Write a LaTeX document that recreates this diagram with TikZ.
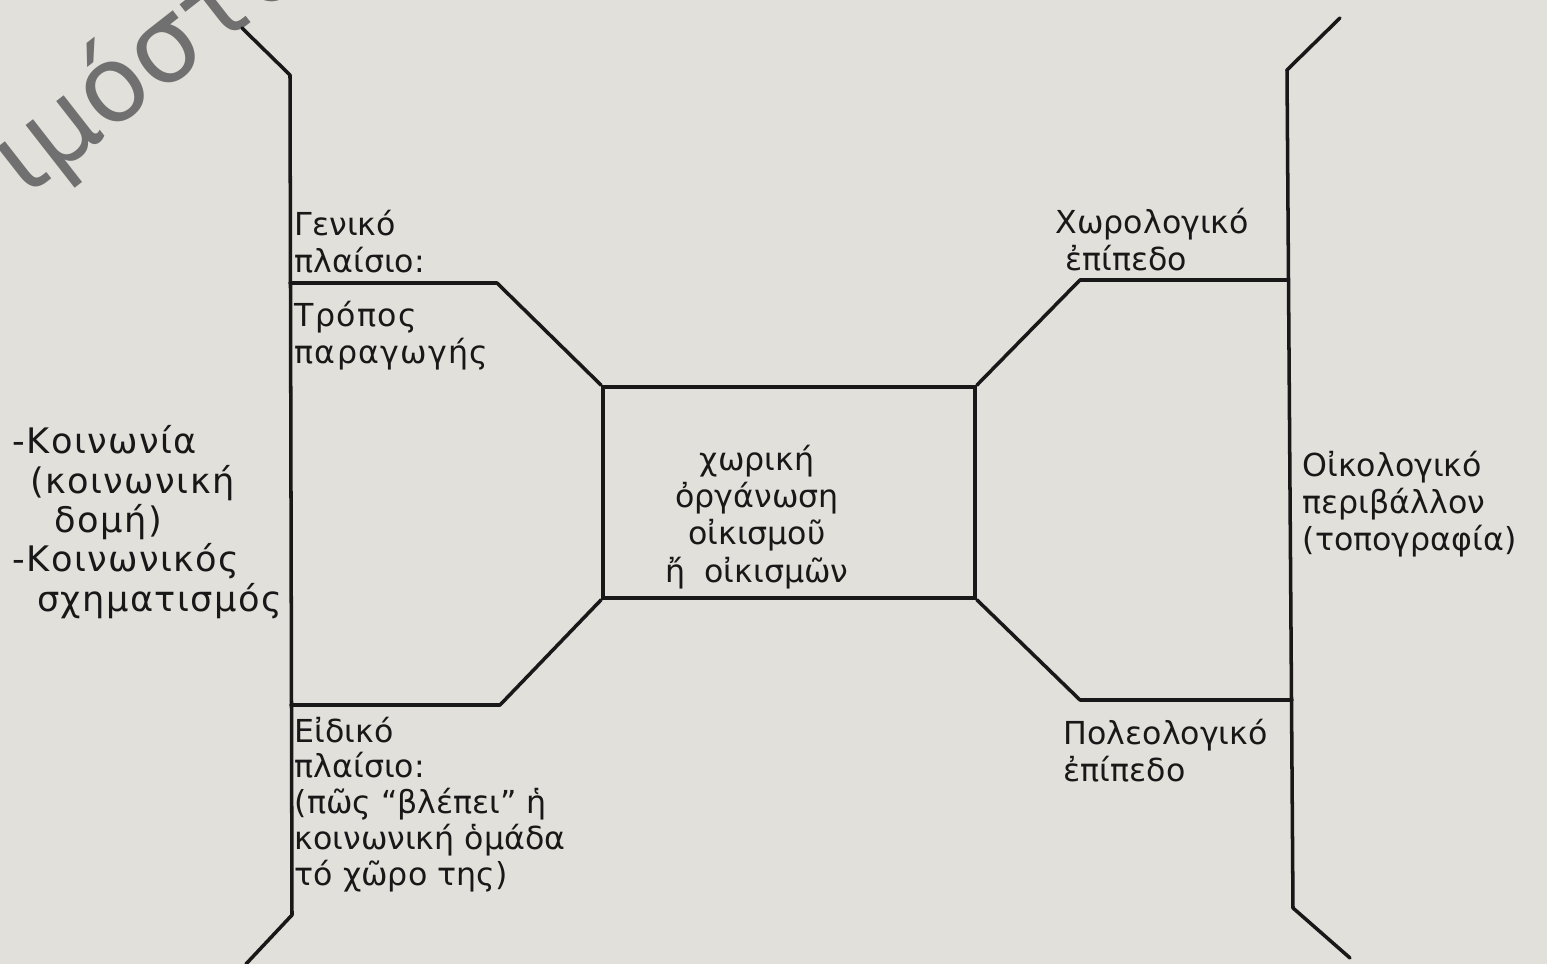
\documentclass[tikz,border=0pt]{standalone}
\usepackage{fontspec}
\setmainfont{DejaVu Sans}
\usetikzlibrary{positioning, calc}
\definecolor{paper}{RGB}{226,224,218}
\definecolor{ink}{RGB}{24,24,24}
\definecolor{stampgray}{RGB}{112,112,112}
\tikzstyle{line} = [line width=1pt, draw=ink, line join=round, line cap=round]

\begin{document}
\begin{tikzpicture}[
    x=0.01cm, y=-0.01cm,
    tag/.style={anchor=north west, align=left, inner sep=0pt, text=ink, font=\fontsize{9}{10.6}\selectfont},
    hub/.style={rectangle, draw=ink, line width=1pt, minimum width=3.72cm, minimum height=2.11cm, inner sep=0pt},
    stamp/.style={text=stampgray, font=\fontsize{30}{30}\selectfont, inner sep=0pt}
]
    \useasboundingbox (0,0) rectangle (1547,964);
    \fill[paper] (0,0) rectangle (1547,964);
    \clip (0,0) rectangle (1547,964);

    % watermark, cut by the page edge
    \node[stamp, rotate=38] (watermark) at (150,62) {ιμόστο};

    % central box
    \node[hub] (core) at (789,492.5) {};
    \node[tag, anchor=center, align=center] (coretext) at (757,517) {χωρική\\ὀργάνωση\\οἰκισμοῦ\\ἤ\hspace{0.6em}οἰκισμῶν};

    % corners of the frame
    \coordinate (lTail1) at (242,28);
    \coordinate (lTop) at (290,75);
    \coordinate (lBot) at (292,915);
    \coordinate (lTail2) at (246,964);
    \coordinate (rTail1) at (1340,18);
    \coordinate (rTop) at (1287,70);
    \coordinate (rBot) at (1293,908);
    \coordinate (rTail2) at (1350,958);
    \coordinate (ulEnd) at (290,283);
    \coordinate (ulBend) at (497,283);
    \coordinate (llEnd) at (291,705);
    \coordinate (llBend) at (500,705);
    \coordinate (urEnd) at (1288,280);
    \coordinate (urBend) at (1080,280);
    \coordinate (lrEnd) at (1292,700);
    \coordinate (lrBend) at (1080,700);

    \draw[line] (lTail1) -- (lTop) -- (lBot) -- (lTail2);
    \draw[line] (rTail1) -- (rTop) -- (rBot) -- (rTail2);
    \draw[line] (ulEnd) -- (ulBend) -- (core.north west);
    \draw[line] (llEnd) -- (llBend) -- (core.south west);
    \draw[line] (urEnd) -- (urBend) -- (core.north east);
    \draw[line] (lrEnd) -- (lrBend) -- (core.south east);

    % texts
    \node[tag] (general) at (294,209) {Γενικό\\πλαίσιο:};
    \node[tag, font=\fontsize{9}{10.6}\addfontfeature{LetterSpace=4}] (production) at (294,300) {Τρόπος\\παραγωγής};
    \node[tag, font=\fontsize{9}{10.2}\selectfont] (special) at (294,716) {Εἰδικό\\πλαίσιο:\\(πῶς “βλέπει” ἡ\\κοινωνική ὁμάδα\\τό χῶρο της)};
    \node[tag, font=\fontsize{10}{11.2}\addfontfeature{LetterSpace=4}] (society) at (12,425) {-Κοινωνία\\\hspace*{0.5em}(κοινωνική\\\hspace*{1.2em}δομή)\\-Κοινωνικός\\\hspace*{0.7em}σχηματισμός};
    \node[tag] (chorology) at (1055,207) {Χωρολογικό\\\hspace*{0.3em}ἐπίπεδο};
    \node[tag] (polis) at (1063,718) {Πολεολογικό\\ἐπίπεδο};
    \node[tag] (ecology) at (1302,450) {Οἰκολογικό\\περιβάλλον\\(τοπογραφία)};
\end{tikzpicture}
\end{document}
